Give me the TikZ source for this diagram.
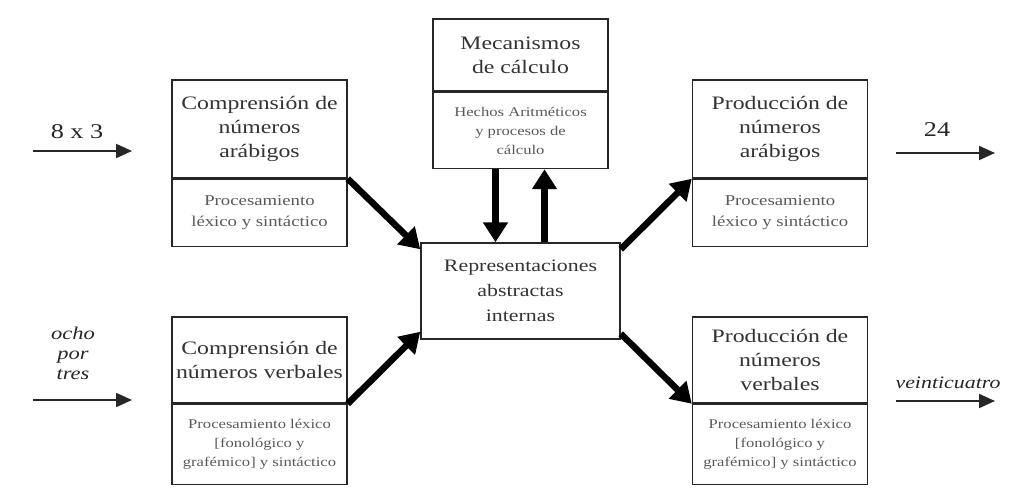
\documentclass[tikz,border=0pt]{standalone}
\usepackage{fontspec}
\setmainfont{Liberation Serif}[FakeStretch=1.25]
\usetikzlibrary{arrows.meta}

\tikzset{
  caja/.style={draw=black!85, line width=1.5pt, minimum width=175pt, inner sep=0pt, align=center},
  titulo/.style={caja, text=black!80, font=\fontsize{19}{24}\selectfont},
  subcaja/.style={caja, anchor=north, text=black!65, font=\fontsize{15}{21}\selectfont},
  subchica/.style={subcaja, font=\fontsize{13.3}{19}\selectfont},
  etiqueta/.style={inner sep=0pt, align=center, text=black!85},
  flecha/.style={-{Triangle[length=16pt,width=14pt]}, line width=2pt, black!85},
  gruesa/.style={-{Triangle[length=20pt,width=24pt]}, line width=6.5pt},
}

\begin{document}
\begin{tikzpicture}[x=1pt, y=-1pt]
\useasboundingbox (0,0) rectangle (1022,497);

% Cajas de comprension
\node[titulo, minimum height=98pt] (cna) at (259.5,129) {Comprensión de\\números\\arábigos};
\node[subcaja, minimum height=67pt] (cnasub) at (cna.south) {Procesamiento\\léxico y sintáctico};
\node[titulo, minimum height=86pt] (cnv) at (259.5,360) {Comprensión de\\números verbales};
\node[subchica, minimum height=80pt] (cnvsub) at (cnv.south) {Procesamiento léxico\\{}[fonológico y\\grafémico] y sintáctico};

% Mecanismos de calculo
\node[titulo, minimum height=72pt] (mec) at (520.5,55) {Mecanismos\\de cálculo};
\node[subchica, minimum height=76pt] (mecsub) at (mec.south) {Hechos Aritméticos\\y procesos de\\cálculo};

% Representacion central
\node[caja, minimum width=199pt, minimum height=96pt, text=black!80, font=\fontsize{17.5}{25}\selectfont] (rep) at (520.5,291) {Representaciones\\abstractas\\internas};

% Cajas de produccion
\node[titulo, minimum height=98pt] (pna) at (780,129) {Producción de\\números\\arábigos};
\node[subcaja, minimum height=67pt] (pnasub) at (pna.south) {Procesamiento\\léxico y sintáctico};
\node[titulo, minimum height=86pt] (pnv) at (780,360) {\rule{0pt}{13pt}Producción de\\números\\verbales};
\node[subchica, minimum height=80pt] (pnvsub) at (pnv.south) {Procesamiento léxico\\{}[fonológico y\\grafémico] y sintáctico};

% Entradas y salidas
\coordinate (e1a) at (33,151);
\coordinate (e1b) at (132,151);
\coordinate (e2a) at (33,400);
\coordinate (e2b) at (132,400);
\coordinate (s1a) at (896,153);
\coordinate (s1b) at (995,153);
\coordinate (s2a) at (896,401);
\coordinate (s2b) at (995,401);
\node[etiqueta, font=\fontsize{21}{24}\selectfont] (ent1) at (77,132) {8 x 3};
\node[etiqueta, font=\fontsize{18}{20}\selectfont\itshape] (ent2) at (73,353) {ocho\\por\\tres};
\node[etiqueta, font=\fontsize{21}{24}\selectfont] (sal1) at (937,130) {24};
\node[etiqueta, font=\fontsize{17.5}{20}\selectfont\itshape] (sal2) at (948,383) {veinticuatro};
\draw[flecha] (e1a) -- (e1b);
\draw[flecha] (e2a) -- (e2b);
\draw[flecha] (s1a) -- (s1b);
\draw[flecha] (s2a) -- (s2b);

% Flechas gruesas
\draw[gruesa] (cna.south east) -- ([yshift=-7pt]rep.north west);
\draw[gruesa] (cnv.south east) -- ([yshift=8pt]rep.south west);
\draw[gruesa] ([yshift=-7pt]rep.north east) -- (pna.south west);
\draw[gruesa] ([yshift=6pt]rep.south east) -- (pnv.south west);
\draw[gruesa] ([xshift=-25pt]mecsub.south) -- ([xshift=-25pt]rep.north);
\draw[gruesa] ([xshift=24pt]rep.north) -- ([xshift=24pt]mecsub.south);
\end{tikzpicture}
\end{document}
